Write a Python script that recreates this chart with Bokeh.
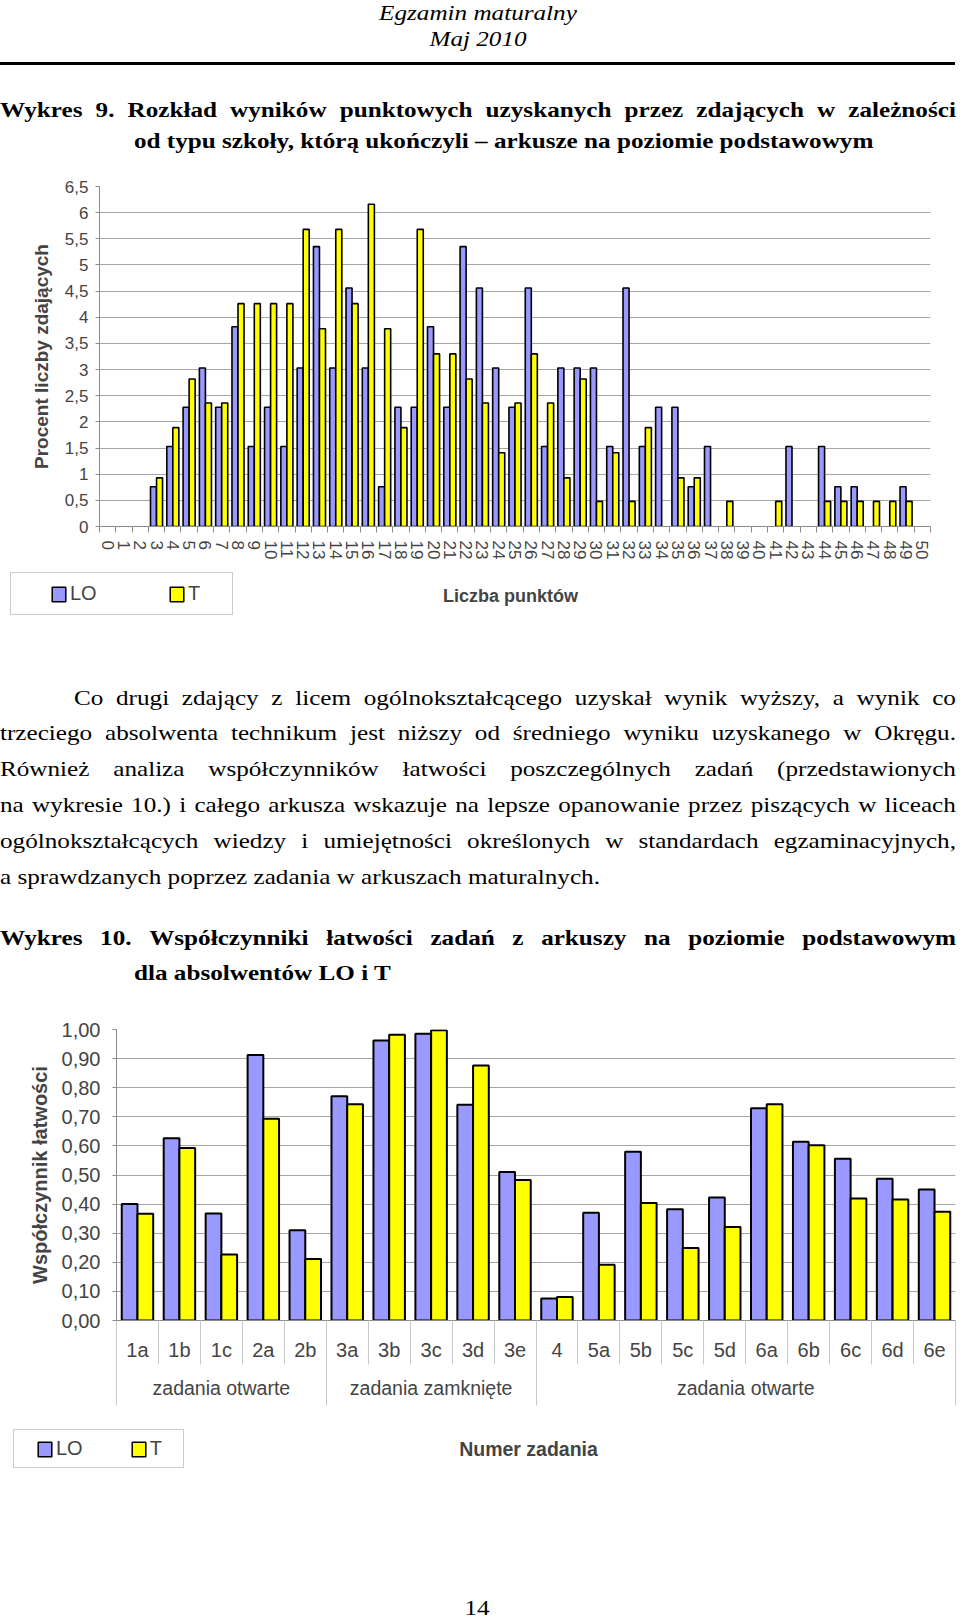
from bokeh.plotting import figure
from bokeh.models import (Div, Range1d, FixedTicker, LinearAxis, Legend, LegendItem,
                          ColumnDataSource, Label)
from bokeh.layouts import column
from bokeh.transform import dodge
from bokeh.embed import file_html
from bokeh.resources import INLINE

# ---------------- data: Wykres 9 ----------------
points = list(range(51))
lo_pct = [0, 0, 0, 0.76, 1.53, 2.28, 3.03, 2.28, 3.82, 1.53, 2.28, 1.53, 3.03, 5.35, 3.03,
          4.56, 3.03, 0.76, 2.28, 2.28, 3.82, 2.28, 5.35, 4.56, 3.03, 2.28, 4.56, 1.53,
          3.03, 3.03, 3.03, 1.53, 4.56, 1.53, 2.28, 2.28, 0.76, 1.53, 0, 0, 0, 0, 1.53, 0,
          1.53, 0.76, 0.76, 0, 0, 0.76, 0]
t_pct = [0, 0, 0, 0.93, 1.89, 2.82, 2.36, 2.36, 4.26, 4.26, 4.26, 4.26, 5.68, 3.78, 5.68,
         4.26, 6.16, 3.78, 1.89, 5.68, 3.30, 3.30, 2.82, 2.36, 1.41, 2.36, 3.30, 2.36,
         0.93, 2.82, 0.48, 1.41, 0.48, 1.89, 0, 0.93, 0.93, 0, 0.48, 0, 0, 0.48, 0, 0,
         0.48, 0.48, 0.48, 0.48, 0.48, 0.48, 0]
y1_ticks = [0, 0.5, 1, 1.5, 2, 2.5, 3, 3.5, 4, 4.5, 5, 5.5, 6, 6.5]
y1_labels = ["0", "0,5", "1", "1,5", "2", "2,5", "3", "3,5", "4", "4,5", "5", "5,5", "6", "6,5"]

# ---------------- data: Wykres 10 ----------------
tasks = ["1a", "1b", "1c", "2a", "2b", "3a", "3b", "3c", "3d", "3e",
         "4", "5a", "5b", "5c", "5d", "6a", "6b", "6c", "6d", "6e"]
lo_easy = [0.400, 0.626, 0.368, 0.912, 0.310, 0.771, 0.962, 0.985, 0.741, 0.510,
           0.076, 0.370, 0.580, 0.382, 0.423, 0.729, 0.614, 0.556, 0.487, 0.450]
t_easy = [0.367, 0.593, 0.227, 0.693, 0.211, 0.743, 0.982, 0.997, 0.876, 0.483,
          0.081, 0.192, 0.404, 0.249, 0.321, 0.743, 0.602, 0.419, 0.416, 0.374]
groups = ["zadania otwarte", "zadania zamknięte", "zadania otwarte"]
group_sizes = [5, 5, 10]
y2_ticks = [0, 0.1, 0.2, 0.3, 0.4, 0.5, 0.6, 0.7, 0.8, 0.9, 1.0]
y2_labels = ["0,00", "0,10", "0,20", "0,30", "0,40", "0,50", "0,60", "0,70", "0,80", "0,90", "1,00"]

LO_COLOR = "#9999FF"
T_COLOR = "#FFFF00"
SANS = "Liberation Sans"
GRID = "#a6a6a6"
AXIS = "#8c8c8c"
W = 960

# ---------------- text helpers (HTML) ----------------
SERIF = "'Liberation Serif', 'Times New Roman', serif"
FS = 21.5
SX = 1.17


def tline(text, x0, x1, base, div_top, bold=False, italic=False, align="justify"):
    top = base - 0.8375 * FS - div_top
    w = (x1 - x0) / SX
    style = ("position:absolute;left:%.1fpx;top:%.1fpx;width:%.1fpx;font-family:%s;"
             "font-size:%spx;line-height:%spx;font-weight:%s;font-style:%s;color:#000;"
             "transform:scaleX(%s);transform-origin:0 0;white-space:nowrap;"
             % (x0, top, w, SERIF, FS, FS, "bold" if bold else "normal",
                "italic" if italic else "normal", SX))
    if align == "justify":
        spans = "".join("<span>%s</span>" % wd for wd in text.split(" "))
        return '<div style="%sdisplay:flex;justify-content:space-between;">%s</div>' % (style, spans)
    return '<div style="%stext-align:%s;">%s</div>' % (style, align, text)


def make_div(parts, height):
    html = ('<div style="position:relative;width:%dpx;height:%dpx;">%s</div>'
            % (W, height, "".join(parts)))
    return Div(text=html, width=W, height=height, margin=0,
               styles={"overflow": "visible"})


def legend_fig(top, height, src, xcol, lo_col, t_col, margin, padding, lead, spacing,
               label_width, font_size, title_text, title_x, title_y, title_size):
    f = figure(width=W, height=height, output_backend="svg", toolbar_location=None,
               x_range=Range1d(0, W), y_range=Range1d(top + height, top),
               x_axis_location=None, y_axis_location=None, min_border=0,
               frame_align=False)
    f.outline_line_color = None
    f.grid.grid_line_color = None
    # legend-only renderers (same series, not drawn in this strip)
    a = f.vbar(x=xcol, top=lo_col, width=0.5, source=src, fill_color=LO_COLOR,
               line_color="black", line_width=1.5, visible=False)
    b = f.vbar(x=xcol, top=t_col, width=0.5, source=src, fill_color=T_COLOR,
               line_color="black", line_width=1.5, visible=False)
    lg = Legend(items=[LegendItem(label="LO", renderers=[a]), LegendItem(label="T", renderers=[b])],
                location="top_left", margin=margin, orientation="horizontal", padding=padding,
                spacing=spacing, glyph_width=17, glyph_height=18, label_standoff=3,
                label_width=label_width, label_text_font=SANS, label_text_font_size=font_size,
                title=" ", title_location="left", title_text_font_size="8px",
                title_standoff=lead,
                border_line_color="#999999", border_line_width=1.2, background_fill_alpha=1)
    f.add_layout(lg)
    f.add_layout(Label(x=title_x, y=title_y, text=title_text, text_align="center",
                       text_baseline="middle", text_font=SANS, text_font_style="bold",
                       text_font_size=title_size))
    return f


# ---------------- header (page y 0-165) ----------------
H_TOP = 0
header_parts = [
    tline("Egzamin maturalny", 328, 628, 20.7, H_TOP, italic=True, align="center"),
    tline("Maj 2010", 328, 628, 46.7, H_TOP, italic=True, align="center"),
    '<div style="position:absolute;left:0px;top:62px;width:955px;height:2.5px;background:#000;"></div>',
    tline("Wykres 9. Rozkład wyników punktowych uzyskanych przez zdających w zależności",
          0, 956, 117.6, H_TOP, bold=True),
    tline("od typu szkoły, którą ukończyli – arkusze na poziomie podstawowym",
          134, 920, 148.6, H_TOP, bold=True, align="left"),
]
header = make_div(header_parts, 165)

# ---------------- chart 1 (page y 165-562) ----------------
src1 = ColumnDataSource(dict(
    pts=points,
    lo=[v if v > 0 else float("nan") for v in lo_pct],
    t=[v if v > 0 else float("nan") for v in t_pct],
))
p1 = figure(width=W, height=397, output_backend="svg", toolbar_location=None,
            x_range=Range1d(-0.5, 50.5), y_range=Range1d(0, 6.5),
            min_border_left=99, min_border_right=30, min_border_top=21, min_border_bottom=36,
            frame_align=False)
p1.outline_line_color = None
p1.xgrid.grid_line_color = None
p1.ygrid.grid_line_color = GRID
p1.ygrid.grid_line_width = 1.2

r1 = p1.vbar(x=dodge("pts", -0.185, range=p1.x_range), top="lo", width=0.37, source=src1,
             fill_color=LO_COLOR, line_color="black", line_width=1.6)
r2 = p1.vbar(x=dodge("pts", 0.185, range=p1.x_range), top="t", width=0.37, source=src1,
             fill_color=T_COLOR, line_color="black", line_width=1.6)

yax = p1.yaxis[0]
yax.ticker = FixedTicker(ticks=y1_ticks)
yax.major_label_overrides = {k: v for k, v in zip(y1_ticks, y1_labels)}
yax.axis_line_color = AXIS
yax.major_tick_line_color = AXIS
yax.major_tick_out = 4
yax.major_tick_in = 0
yax.minor_tick_line_color = None
yax.major_label_standoff = 7
yax.major_label_text_font = SANS
yax.major_label_text_font_size = "17px"
yax.axis_label = "Procent liczby zdających"
yax.axis_label_text_font = SANS
yax.axis_label_text_font_style = "bold"
yax.axis_label_text_font_size = "19px"
yax.axis_label_standoff = 10

xax = p1.xaxis[0]
xax.ticker = FixedTicker(ticks=points, minor_ticks=[k - 0.5 for k in points] + [50.5])
xax.axis_line_color = AXIS
xax.major_tick_out = 0
xax.major_tick_in = 0
xax.major_tick_line_color = None
xax.minor_tick_out = 6
xax.minor_tick_in = 0
xax.minor_tick_line_color = AXIS
xax.major_label_orientation = "vertical"
xax.major_label_standoff = 8
xax.major_label_text_font = SANS
xax.major_label_text_font_size = "17px"

# legend row of chart 1 (page y 562-625) with the x-axis title
leg1 = legend_fig(562, 63, src1, "pts", "lo", "t", 10, 9, 21, 63, 35, "20px",
                  "Liczba punktów", 510, 595, "18px")

# ---------------- paragraph + title 10 (page y 625-995) ----------------
P_TOP = 625
B0 = 705.5
LS = 35.8
para_lines = [
    "Co drugi zdający z licem ogólnokształcącego uzyskał wynik wyższy, a wynik co",
    "trzeciego absolwenta technikum jest niższy od średniego wyniku uzyskanego w Okręgu.",
    "Również analiza współczynników łatwości poszczególnych zadań (przedstawionych",
    "na wykresie 10.) i całego arkusza wskazuje na lepsze opanowanie przez piszących w liceach",
    "ogólnokształcących wiedzy i umiejętności określonych w standardach egzaminacyjnych,",
    "a sprawdzanych poprzez zadania w arkuszach maturalnych.",
]
mid_parts = []
for i, ln in enumerate(para_lines):
    x0 = 74 if i == 0 else 0
    al = "left" if i == len(para_lines) - 1 else "justify"
    mid_parts.append(tline(ln, x0, 956, B0 + i * LS, P_TOP, align=al))
mid_parts.append(tline("Wykres 10. Współczynniki łatwości zadań z arkuszy na poziomie podstawowym",
                       0, 956, 945.5, P_TOP, bold=True))
mid_parts.append(tline("dla absolwentów LO i T", 134, 700, 981, P_TOP, bold=True, align="left"))
mid = make_div(mid_parts, 370)

# ---------------- chart 2 (page y 995-1416) ----------------
n = len(tasks)
centers = [i + 0.5 for i in range(n)]
src2 = ColumnDataSource(dict(c=centers, lo=lo_easy, t=t_easy))
p2 = figure(width=W, height=421, output_backend="svg", toolbar_location=None,
            x_range=Range1d(0, n), y_range=Range1d(0, 1.0),
            min_border_left=116, min_border_right=5, min_border_top=34, min_border_bottom=96,
            frame_align=False)
p2.outline_line_color = None
p2.xgrid.grid_line_color = None
p2.ygrid.grid_line_color = GRID
p2.ygrid.grid_line_width = 1.2

q1 = p2.vbar(x=dodge("c", -0.1875, range=p2.x_range), top="lo", width=0.375, source=src2,
             fill_color=LO_COLOR, line_color="black", line_width=2)
q2 = p2.vbar(x=dodge("c", 0.1875, range=p2.x_range), top="t", width=0.375, source=src2,
             fill_color=T_COLOR, line_color="black", line_width=2)

yb = p2.yaxis[0]
yb.ticker = FixedTicker(ticks=y2_ticks)
yb.major_label_overrides = {k: v for k, v in zip(y2_ticks, y2_labels)}
yb.axis_line_color = AXIS
yb.major_tick_line_color = AXIS
yb.major_tick_out = 4
yb.major_tick_in = 0
yb.minor_tick_line_color = None
yb.major_label_standoff = 12
yb.major_label_text_font = SANS
yb.major_label_text_font_size = "20px"
yb.axis_label = "Współczynnik łatwości"
yb.axis_label_text_font = SANS
yb.axis_label_text_font_style = "bold"
yb.axis_label_text_font_size = "20px"
yb.axis_label_standoff = 8

xb = p2.xaxis[0]
xb.ticker = FixedTicker(ticks=centers, minor_ticks=list(range(n + 1)))
xb.major_label_overrides = {c: t for c, t in zip(centers, tasks)}
xb.axis_line_color = AXIS
xb.major_tick_line_color = None
xb.major_tick_out = 0
xb.major_tick_in = 0
xb.minor_tick_line_color = "#c8c8c8"
xb.minor_tick_out = 44
xb.minor_tick_in = 0
xb.major_label_standoff = -26
xb.major_label_text_font = SANS
xb.major_label_text_font_size = "20px"

bounds = [0]
for s in group_sizes:
    bounds.append(bounds[-1] + s)
g_centers = [(bounds[i] + bounds[i + 1]) / 2 for i in range(len(groups))]
xg = LinearAxis(ticker=FixedTicker(ticks=g_centers, minor_ticks=bounds))
xg.major_label_overrides = {c: g for c, g in zip(g_centers, groups)}
xg.axis_line_color = None
xg.major_tick_line_color = None
xg.major_tick_out = 0
xg.major_tick_in = 0
xg.minor_tick_line_color = "#c8c8c8"
xg.minor_tick_out = 42
xg.minor_tick_in = 0
xg.major_label_standoff = -29
xg.major_label_text_font = SANS
xg.major_label_text_font_size = "19.5px"
p2.add_layout(xg, "below")

# legend row of chart 2 (page y 1416-1490) with the x-axis title
leg2 = legend_fig(1416, 74, src2, "c", "lo", "t", 13, 7, 6, 47, 26, "20px",
                  "Numer zadania", 528, 1448, "19.5px")

# ---------------- footer (page y 1490-1620) ----------------
F_TOP = 1490
footer = make_div([tline("14", 427, 527, 1616, F_TOP, align="center")], 130)

layout = column(header, p1, leg1, mid, p2, leg2, footer, spacing=0)

with open("out.html", "w", encoding="utf-8") as f:
    f.write(file_html(layout, INLINE))
